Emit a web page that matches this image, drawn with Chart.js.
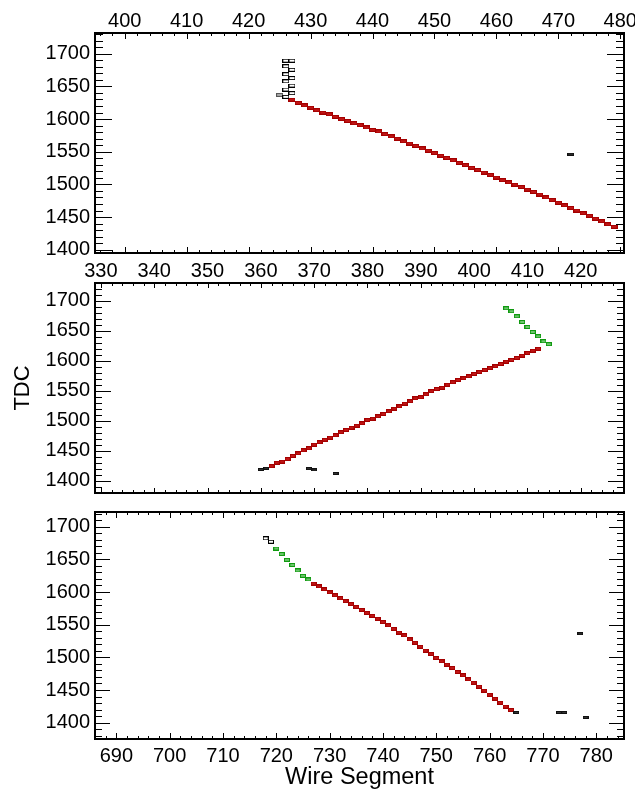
<!DOCTYPE html>
<html><head><meta charset="utf-8">
<script src="https://cdn.jsdelivr.net/npm/chart.js@4.4.1/dist/chart.umd.min.js"></script>
<style>
html,body{margin:0;padding:0;background:#fff;width:635px;height:789px;overflow:hidden}
canvas{position:absolute;left:0;display:block}
</style></head><body>
<canvas id="c1" width="635" height="258" style="top:0px"></canvas>
<canvas id="c2" width="635" height="242" style="top:258px"></canvas>
<canvas id="c3" width="635" height="289" style="top:500px"></canvas>
<script>
// ---------- DATA ----------
// tick labels
const tdcTicks  = [1400,1450,1500,1550,1600,1650,1700];
const topXTicks = [400,410,420,430,440,450,460,470,480];
const midXTicks = [330,340,350,360,370,380,390,400,410,420];
const botXTicks = [690,700,710,720,730,740,750,760,770,780];

// Top panel
const topRedWire = [427,428,429,430,431,432,433,434,435,436,437,438,439,440,441,442,443,444,445,446,447,448,449,450,451,452,453,454,455,456,457,458,459,460,461,462,463,464,465,466,467,468,469,470,471,472,473,474,475,476,477,478,479];
const topRedTdc  = [1629.5,1624.8,1621,1617.4,1613.5,1609.9,1607.4,1603.4,1599.9,1597,1593.6,1590.8,1587.1,1583.5,1581,1577,1573.5,1570,1566,1562.5,1559,1555,1551.5,1548,1544,1540.5,1537,1533,1529.5,1525.5,1522,1518,1514.5,1510.5,1506.5,1503,1499.5,1496,1492,1488.5,1484.5,1480,1476,1472,1468,1464,1460,1456,1452,1447.5,1443.5,1439,1435];
const topHollowWire = [426,427,426,427,426,427,426,427,426,427,426];
const topHollowTdc  = [1689.4,1689.4,1680.8,1675.4,1668.6,1662.7,1657.7,1651.2,1645.2,1639.6,1634];
const topGrayWire = [425];
const topGrayTdc  = [1637];
const topSolidWire = [472];
const topSolidTdc  = [1546.3];

// Middle panel
const midRedWire = [362,363,364,365,366,367,368,369,370,371,372,373,374,375,376,377,378,379,380,381,382,383,384,385,386,387,388,389,390,391,392,393,394,395,396,397,398,399,400,401,402,403,404,405,406,407,408,409,410,411,412];
const midRedTdc  = [1424.6,1430.5,1432.1,1436.6,1441.6,1446,1451,1454.4,1460.4,1464.4,1468.7,1472.1,1476,1481,1484.9,1488.7,1492,1496,1501.5,1503.7,1507.6,1511.5,1516,1520.3,1524.3,1528.6,1532.6,1537.6,1539.3,1544.3,1549.3,1553.1,1555.2,1560.2,1564.2,1568.1,1570.9,1574.2,1578,1581.4,1584.7,1588,1590.8,1594.7,1598.5,1601.3,1604.7,1608.5,1613,1616.8,1620.2];
const midGreenWire = [406,407,408,409,410,411,412,413,414];
const midGreenTdc  = [1687.3,1682.5,1674,1664.6,1656.2,1647.9,1640.7,1632.4,1627.6];
const midSolidWire = [360,361,369,370,374];
const midSolidTdc  = [1419.1,1421.1,1420.5,1418.3,1412.5];

// Bottom panel
const botRedWire = [727,728,729,730,731,732,733,734,735,736,737,738,739,740,741,742,743,744,745,746,747,748,749,750,751,752,753,754,755,756,757,758,759,760,761,762,763,764];
const botRedTdc  = [1613,1608.5,1604,1599.5,1595,1590.5,1586,1581.5,1577,1572.5,1568,1563.5,1559,1554,1549,1543.5,1538,1533.8,1527.6,1522.4,1516.3,1510.2,1505.1,1499,1494,1488.8,1483.7,1477.6,1472.5,1466.4,1461.2,1455.1,1449,1442.8,1436.7,1430.6,1424.5,1419.4];
const botGreenWire = [720,721,722,723,724,725,726];
const botGreenTdc  = [1666.6,1658.2,1649.3,1641.4,1633,1624.8,1619.2];
const botHollowWire = [718,719];
const botHollowTdc  = [1682.2,1677];
const botSolidWire = [765,773,774,777,778];
const botSolidTdc  = [1415.6,1415.6,1415.6,1536.2,1408];

// axis ranges
const topX = [395.2, 480.6], topY = [1395, 1731.7];
const midX = [328.9, 428.1], midY = [1380, 1729.4];
const botX = [686, 785.2],   botY = [1375, 1722.5];

// ---------- RENDER ----------
const FONT = "'Liberation Sans', Arial, Helvetica, sans-serif";
function boxImg(w,h,fill,stroke){
  const c=document.createElement('canvas'); c.width=w; c.height=h;
  const g=c.getContext('2d');
  g.fillStyle=fill; g.fillRect(0,0,w,h);
  g.strokeStyle=stroke; g.lineWidth=1; g.strokeRect(0.5,0.5,w-1,h-1);
  return c;
}
function pts(xs,ys){ return xs.map((x,i)=>({x:x,y:ys[i]})); }
function ds(xs,ys,img){ return {data:pts(xs,ys), pointStyle:img, pointRadius:3, showLine:false}; }

const frameTicks = {
  id:'frameTicks',
  afterDraw(chart, args, o){
    const {ctx, chartArea:a, scales:{x,y}} = chart;
    ctx.save(); ctx.strokeStyle='#000'; ctx.lineWidth=1;
    ctx.beginPath();
    for (let v=Math.ceil(y.min/10)*10; v<=y.max; v+=10){
      const py=Math.round(y.getPixelForValue(v))+0.5;
      const L=(v%50===0)?o.yMaj:o.yMin;
      ctx.moveTo(a.left,py); ctx.lineTo(a.left+L,py);
      ctx.moveTo(a.right,py); ctx.lineTo(a.right-L,py);
    }
    for (let v=Math.ceil(x.min/2)*2; v<=x.max; v+=2){
      const px=Math.round(x.getPixelForValue(v))+0.5;
      const L=(v%10===0)?o.xMaj:o.xMin;
      ctx.moveTo(px,a.top); ctx.lineTo(px,a.top+L);
      ctx.moveTo(px,a.bottom); ctx.lineTo(px,a.bottom-L);
    }
    ctx.stroke();
    ctx.lineWidth=2;
    ctx.strokeRect(a.left,a.top,a.right-a.left,a.bottom-a.top);
    ctx.restore();
  }
};

function makeChart(id, cfg){
  const scales = {
    x:{type:'linear', position:cfg.xPos, min:cfg.xr[0], max:cfg.xr[1],
       afterBuildTicks(s){ s.ticks = cfg.xTicks.map(v=>({value:v})); },
       afterFit(s){ s.height=cfg.xH; s.paddingLeft=0; s.paddingRight=0; },
       grid:{display:false, drawTicks:false}, border:{display:false},
       ticks:{display:true, autoSkip:false, maxRotation:0, minRotation:0,
              callback:v=>String(v),
              font:{family:FONT,size:20}, color:'#000', padding:cfg.xPad},
       title:cfg.xTitle || {display:false}},
    y:{type:'linear', position:'left', min:cfg.yr[0], max:cfg.yr[1],
       afterBuildTicks(s){ s.ticks = tdcTicks.map(v=>({value:v})); },
       afterFit(s){ s.width=95; s.paddingTop=0; s.paddingBottom=0; },
       grid:{display:false, drawTicks:false}, border:{display:false},
       ticks:{autoSkip:false, callback:v=>String(v),
              font:{family:FONT,size:20}, color:'#000', padding:5},
       title:cfg.yTitle || {display:false}}
  };
  return new Chart(document.getElementById(id), {
    type:'scatter',
    data:{datasets:cfg.datasets},
    options:{responsive:false, animation:false, events:[],
      layout:{padding:{left:0, right:11, top:cfg.padT, bottom:cfg.padB}},
      plugins:{legend:{display:false}, tooltip:{enabled:false}, frameTicks:cfg.ticks},
      scales:scales},
    plugins:[frameTicks]
  });
}

const RED_F='#c01616', RED_S='#a40000', GRN_F='#6cc46c', GRN_S='#109a10';

// top
makeChart('c1',{xPos:'top', xr:topX, yr:topY, xTicks:topXTicks, xH:33, xPad:0, padT:0, padB:2,
  ticks:{yMaj:17,yMin:8,xMaj:6,xMin:3},
  datasets:[
    ds(topHollowWire, topHollowTdc, boxImg(7,4,'#ffffff','#000000')),
    ds(topGrayWire, topGrayTdc, boxImg(7,4,'#aaaaaa','#555555')),
    ds(topSolidWire, topSolidTdc, boxImg(7,3,'#333333','#111111')),
    ds(topRedWire, topRedTdc, boxImg(7,4,RED_F,RED_S))
  ]});

// middle
makeChart('c2',{xPos:'top', xr:midX, yr:midY, xTicks:midXTicks, xH:25, xPad:0, padT:0, padB:7,
  ticks:{yMaj:16,yMin:7,xMaj:5,xMin:3},
  yTitle:{display:true, text:'TDC', color:'#000', font:{family:FONT,size:22}, padding:{top:10,bottom:0}},
  datasets:[
    ds(midSolidWire, midSolidTdc, boxImg(6,3,'#333333','#111111')),
    ds(midGreenWire, midGreenTdc, boxImg(6,4,GRN_F,GRN_S)),
    ds(midRedWire, midRedTdc, boxImg(6,4,RED_F,RED_S))
  ]});

// bottom
makeChart('c3',{xPos:'bottom', xr:botX, yr:botY, xTicks:botXTicks, xH:50, xPad:5, padT:12, padB:0,
  ticks:{yMaj:15,yMin:7,xMaj:6,xMin:3},
  xTitle:{display:true, text:'Wire Segment', color:'#000', font:{family:FONT,size:23.5}, padding:{top:0,bottom:-3}},
  datasets:[
    ds(botHollowWire, botHollowTdc, boxImg(6,4,'#ffffff','#000000')),
    ds(botSolidWire, botSolidTdc, boxImg(6,3,'#333333','#111111')),
    ds(botGreenWire, botGreenTdc, boxImg(6,4,GRN_F,GRN_S)),
    ds(botRedWire, botRedTdc, boxImg(6,4,RED_F,RED_S))
  ]});
</script>
</body></html>
